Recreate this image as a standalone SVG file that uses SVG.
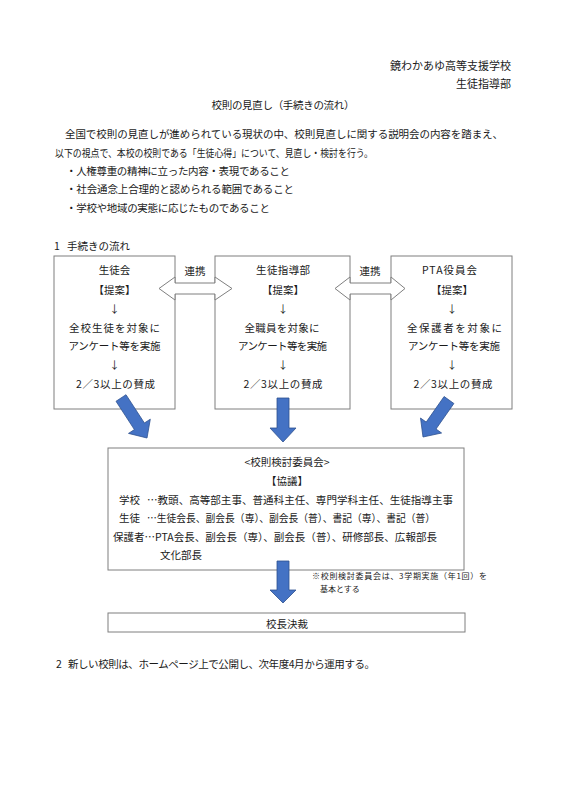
<svg xmlns="http://www.w3.org/2000/svg" width="566" height="800" viewBox="0 0 566 800">
<style>
text{font-family:"Noto Sans CJK JP","Noto Sans",sans-serif;font-size:10.5px;fill:#1a1a1a;dominant-baseline:central}
.c{text-anchor:middle}
.r{text-anchor:end}
.s{font-size:8px}
.box{fill:#fff;stroke:#7f7f7f;stroke-width:1}
.dbl{fill:#fff;stroke:#7f7f7f;stroke-width:1}
.blue{fill:#4472c4;stroke:#2f528f;stroke-width:0.8}
</style>
<rect width="566" height="800" fill="#fff"/>

<g id="header">
<text class="r" x="511" y="65" style="font-size:11px">鏡わかあゆ高等支援学校</text>
<text class="r" x="511" y="83" style="font-size:11px">生徒指導部</text>
<text class="c" x="283" y="104" textLength="143">校則の見直し（手続きの流れ）</text>
<text x="65" y="133" textLength="438">全国で校則の見直しが進められている現状の中、校則見直しに関する説明会の内容を踏まえ、</text>
<text x="55" y="152" textLength="318" lengthAdjust="spacingAndGlyphs">以下の視点で、本校の校則である「生徒心得」について、見直し・検討を行う。</text>
<text x="66" y="170" textLength="224">・人権尊重の精神に立った内容・表現であること</text>
<text x="66" y="188" textLength="228">・社会通念上合理的と認められる範囲であること</text>
<text x="66" y="207" textLength="204">・学校や地域の実態に応じたものであること</text>
<text x="54" y="245">1</text>
<text x="67" y="245">手続きの流れ</text>
</g>

<g id="node-seitokai">
<rect class="box" x="54" y="256" width="121" height="153"/>
<text class="c" x="114.5" y="269">生徒会</text>
<text class="c" x="114.5" y="289">【提案】</text>
<text class="c" x="114.5" y="308">↓</text>
<text class="c" x="114.5" y="327" textLength="91">全校生徒を対象に</text>
<text class="c" x="114.5" y="345" textLength="92">アンケート等を実施</text>
<text class="c" x="114.5" y="364">↓</text>
<text class="c" x="115.5" y="383" textLength="79">2／3以上の賛成</text>
</g>

<g id="node-shidoubu">
<rect class="box" x="215" y="256" width="135" height="153"/>
<text class="c" x="283" y="269" textLength="54">生徒指導部</text>
<text class="c" x="283" y="289">【提案】</text>
<text class="c" x="283" y="308">↓</text>
<text class="c" x="282" y="327" textLength="75">全職員を対象に</text>
<text class="c" x="282.5" y="345" textLength="89">アンケート等を実施</text>
<text class="c" x="283" y="364">↓</text>
<text class="c" x="283" y="383" textLength="79">2／3以上の賛成</text>
</g>

<g id="node-pta">
<rect class="box" x="391" y="256" width="121" height="153"/>
<text class="c" x="450" y="269" style="letter-spacing:1px">PTA役員会</text>
<text class="c" x="452" y="289">【提案】</text>
<text class="c" x="452" y="308">↓</text>
<text class="c" x="454.5" y="327" textLength="95">全保護者を対象に</text>
<text class="c" x="454" y="345" textLength="92">アンケート等を実施</text>
<text class="c" x="452" y="364">↓</text>
<text class="c" x="453" y="383" textLength="79">2／3以上の賛成</text>
</g>

<g id="node-iinkai">
<rect class="box" x="108" y="448" width="356" height="122"/>
<text class="c" x="287" y="461">&lt;校則検討委員会&gt;</text>
<text class="c" x="287" y="480">【協議】</text>
<text x="119" y="499">学校</text>
<text x="147" y="499" textLength="306" lengthAdjust="spacingAndGlyphs">…教頭、高等部主事、普通科主任、専門学科主任、生徒指導主事</text>
<text x="119" y="517">生徒</text>
<text x="147" y="517" textLength="288" lengthAdjust="spacingAndGlyphs">…生徒会長、副会長（専）、副会長（普）、書記（専）、書記（普）</text>
<text x="113" y="536" textLength="324" lengthAdjust="spacingAndGlyphs">保護者…PTA会長、副会長（専）、副会長（普）、研修部長、広報部長</text>
<text x="160" y="554">文化部長</text>
</g>

<g id="note">
<text class="s" x="312" y="575" textLength="175">※校則検討委員会は、3学期実施（年1回）を</text>
<text class="s" x="320" y="588">基本とする</text>
</g>

<g id="node-kouchou">
<rect class="box" x="108" y="613" width="357" height="19"/>
<text class="c" x="287" y="623">校長決裁</text>
</g>

<g id="footer">
<text x="56" y="663">2</text>
<text x="68" y="663" textLength="307">新しい校則は、ホームページ上で公開し、次年度4月から運用する。</text>
</g>

<g id="connectors">
<polygon class="dbl" points="159,288.5 175,277 175,283 215,283 215,277 232,288.5 215,300 215,294 175,294 175,300"/>
<text class="c" x="195" y="270">連携</text>
<polygon class="dbl" points="335,288.5 350,277 350,283 391,283 391,277 405,288.5 391,300 391,294 350,294 350,300"/>
<text class="c" x="370" y="270">連携</text>
<polygon class="blue" points="126,394.7 144.4,423 150.3,419.2 147,438 128.5,433.4 134.4,429.6 116,401.3"/>
<polygon class="blue" points="277,398 289,398 289,428 296,428 283,442 270,428 277,428"/>
<polygon class="blue" points="444.1,396.5 426.2,422.1 420.5,418 423,437 441.6,433 436,429 453.9,403.5"/>
<polygon class="blue" points="277,561 289,561 289,590 296,590 283,603 270,590 277,590"/>
</g>
</svg>
